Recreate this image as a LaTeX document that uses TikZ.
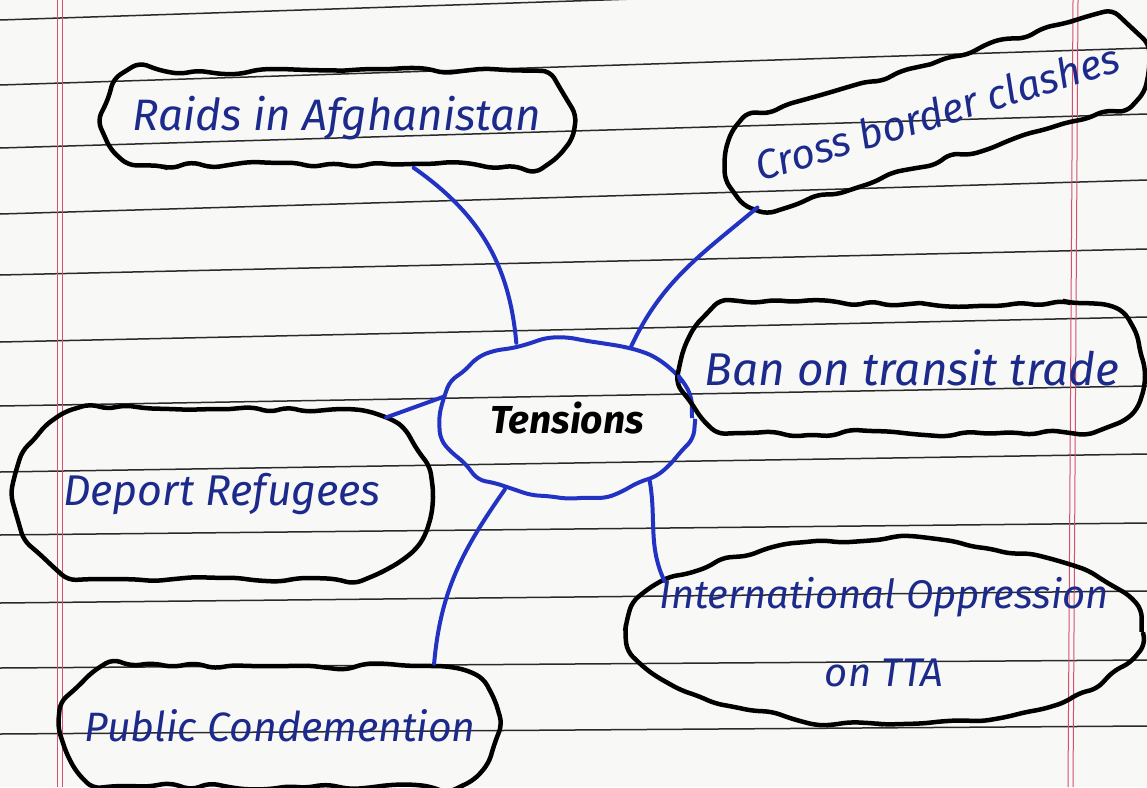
\documentclass[tikz,border=0pt]{standalone}
\usepackage{fontspec}
\setmainfont{Fira Sans}
\usepackage{tikz}
\usetikzlibrary{shapes.geometric, shapes.misc, decorations.pathmorphing, positioning}
\definecolor{ink}{HTML}{1C2A8C}
\definecolor{pen}{HTML}{2233C4}
\definecolor{paper}{HTML}{F8F8F6}
\definecolor{rulegray}{HTML}{2A2A2A}
\definecolor{redline}{HTML}{D4506E}
\newcommand{\handsize}[1]{\fontsize{#1}{78}\selectfont\itshape}
\tikzstyle{bubble} = [rounded rectangle, draw=black, line width=4.5pt, inner sep=0pt, text=ink, font=\handsize{44}, decorate, decoration={random steps, segment length=20pt, amplitude=4pt}, rounded corners=8pt]
\tikzstyle{hub} = [ellipse, draw=pen, line width=4pt, inner sep=0pt, minimum width=250pt, minimum height=160pt, text=black, font=\fontsize{39}{42}\selectfont\bfseries\itshape, decorate, decoration={random steps, segment length=18pt, amplitude=4pt}, rounded corners=8pt]
\tikzstyle{branch} = [pen, line width=4pt, line cap=round]
\tikzstyle{ruleline} = [rulegray, line width=1.5pt]
\tikzstyle{marginline} = [redline, line width=1pt]

\begin{document}
\begin{tikzpicture}[x=1pt, y=-1pt]
    \pgfmathsetseed{11}
    % Paper
    \fill[paper] (0,0) rectangle (1147,787);
    \useasboundingbox (0,0) rectangle (1147,787);
    \foreach \ya/\yb in {20/-18, 85/48, 148/114, 214/180, 275/249, 342/317, 406/386, 472/454, 535/523, 603/591, 668/660, 734/726}
        \draw[ruleline] (0,\ya) -- (1147,\yb);
    \draw[marginline] (57,0) -- (57,787);
    \draw[marginline] (62,0) -- (62,787);
    \draw[marginline] (1073,0) -- (1068,787);
    \draw[marginline] (1078,0) -- (1073,787);

    % Centre
    \node (tens) [hub] at (567,418) {Tensions};

    % Branches
    \node (raids) [bubble, minimum width=465pt, minimum height=95pt] at (337,118) {Raids in Afghanistan};
    \node (cross) [bubble, rotate=17, minimum width=432pt, minimum height=95pt, font=\handsize{41}] at (937,112) {Cross border clashes};
    \node (ban) [bubble, minimum width=463pt, minimum height=130pt, font=\handsize{46}] at (912,368) {Ban on transit trade};
    \node (deport) [bubble, minimum width=415pt, minimum height=170pt, font=\handsize{43}] at (222,494) {Deport Refugees};
    \node (intl) [bubble, ellipse, inner xsep=-60pt, inner ysep=-40pt, minimum width=515pt, minimum height=185pt, align=center, font=\handsize{40}] at (884,632) {International Oppression\\on TTA};
    \node (public) [bubble, minimum width=433pt, minimum height=120pt, font=\handsize{41}] at (280,726) {Public Condemention};

    % Connectors
    \draw [branch] (raids.-33) to[out=-35, in=95] (tens.124);
    \draw [branch] (cross.191) to[out=-140, in=65] (tens.48);
    \draw [branch] (tens.18) -- (ban.182);
    \draw [branch] (tens.170) -- (deport.25);
    \draw [branch] (tens.-37) to[out=-80, in=115] (intl.167);
    \draw [branch] (tens.229) to[out=-125, in=85] (public.22);

\end{tikzpicture}
\end{document}
